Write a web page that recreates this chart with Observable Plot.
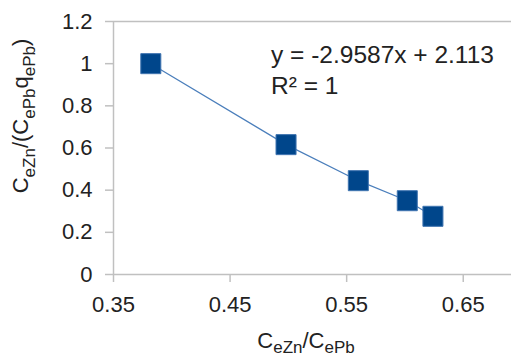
<!DOCTYPE html>
<html><head><meta charset="utf-8">
<script src="https://cdn.jsdelivr.net/npm/d3@7"></script>
<script src="https://cdn.jsdelivr.net/npm/@observablehq/plot@0.6"></script>
<style>body{margin:0;background:#fff}</style>
</head><body><div id="chart"></div>
<script>
const ratioX = [0.382, 0.498, 0.560, 0.602, 0.624];
const ratioY = [1.00, 0.616, 0.445, 0.350, 0.276];
const xTicks = [0.35, 0.45, 0.55, 0.65];
const yTicks = [0, 0.2, 0.4, 0.6, 0.8, 1, 1.2];
const equation = "y = -2.9587x + 2.113";
const rSquared = "R² = 1";

const data = ratioX.map((x, i) => ({x, y: ratioY[i]}));
const font = "'Liberation Sans', Arial, sans-serif";

const plot = Plot.plot({
  width: 511, height: 358,
  marginLeft: 113, marginRight: 0, marginTop: 21, marginBottom: 84,
  style: {fontFamily: font, fontSize: "22px", color: "#222", background: "#fff"},
  x: {domain: [0.35, 0.6914], ticks: xTicks, tickFormat: d => String(d), label: null},
  y: {domain: [0, 1.2], ticks: yTicks, tickFormat: d => String(d), label: null},
  marks: [
    Plot.ruleY([1.2], {stroke: "#c0c0c0", strokeWidth: 1.5}),
    Plot.ruleX([0.35], {stroke: "#c0c0c0", strokeWidth: 1.5}),
    Plot.ruleY([0], {stroke: "#c0c0c0", strokeWidth: 1.5}),
    Plot.axisX({ticks: xTicks, tickFormat: d => String(d), tickSize: 8, tickPadding: 14, stroke: "#c0c0c0", strokeWidth: 1.5, fill: "#222", label: null}),
    Plot.axisY({ticks: yTicks, tickFormat: d => String(d), tickSize: 8, tickPadding: 13, stroke: "#c0c0c0", strokeWidth: 1.5, fill: "#222", label: null}),
    Plot.line(data, {x: "x", y: "y", stroke: "#4a7ebb", strokeWidth: 1.2}),
    Plot.dot(data, {x: "x", y: "y", symbol: "square", r: 11.3, fill: "#00468b", stroke: "#3f74b0", strokeWidth: 1})
  ]
});
document.getElementById("chart").appendChild(plot);

const svg = d3.select(plot);
function rich(g, parts, main, sub, shift) {
  const t = g.append("text").attr("font-family", font).attr("fill", "#222")
    .attr("font-size", main).attr("text-anchor", "middle");
  let down = false;
  parts.forEach(([s, isSub]) => {
    const sp = t.append("tspan").text(s);
    if (isSub) { sp.attr("font-size", sub).attr("dy", down ? 0 : shift); down = true; }
    else { sp.attr("dy", down ? -shift : 0); down = false; }
  });
  return t;
}
// equation
svg.append("text").attr("x", 271).attr("y", 63).attr("text-anchor", "start").attr("font-family", font).attr("font-size", 24.5).attr("fill", "#222").text(equation);
svg.append("text").attr("x", 271).attr("y", 94).attr("text-anchor", "start").attr("font-family", font).attr("font-size", 24.5).attr("fill", "#222").text(rSquared);
// x label
const gx = svg.append("g").attr("transform", "translate(306,348)");
rich(gx, [["C"], ["eZn", 1], ["/C"], ["ePb", 1]], 22, 17, 5);
// y label
const gy = svg.append("g").attr("transform", "translate(28,116) rotate(-90)");
rich(gy, [["C"], ["eZn", 1], ["/(C"], ["ePb", 1], ["q"], ["ePb", 1], [")"]], 22, 17, 7);
</script>
</body></html>
